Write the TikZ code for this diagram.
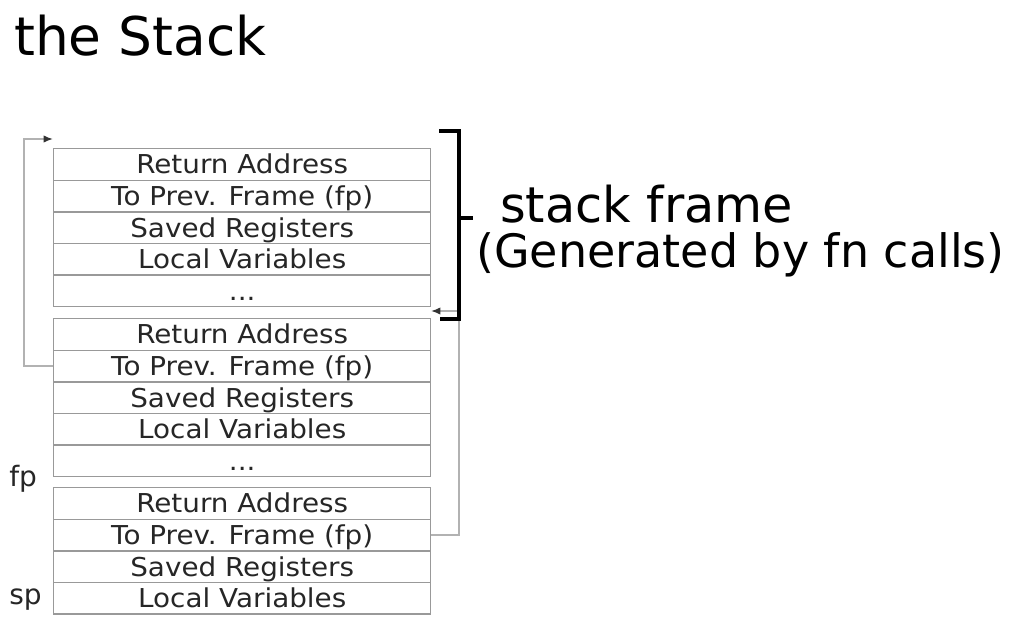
\documentclass[tikz,border=0pt]{standalone}
\usepackage{fontspec}
\setmainfont{DejaVu Sans}
\newfontfamily\cellfont[FakeStretch=1.07]{DejaVu Sans}
\usetikzlibrary{arrows.meta}
\newcommand\mydots{...}
\begin{document}
\begin{tikzpicture}[x=0.75pt,y=-0.75pt,
  cell/.style={draw=black!40, line width=1.1pt, minimum width=282.75pt, minimum height=23.7pt,
    inner sep=0pt, text height=15.5pt, text depth=1.5pt, anchor=north west,
    font=\cellfont\fontsize{19.5}{20}\selectfont, text=black!85},
  conn/.style={draw=black!30, line width=1.1pt, -{Latex[length=7pt,width=5.5pt,color=black!80]}},
  hand/.style={font=\fontsize{36}{40}\selectfont, anchor=west, inner sep=0pt},
  brk/.style={line width=3pt, line join=miter},
  lab/.style={font=\fontsize{21}{22}\selectfont, anchor=west, inner sep=0pt, text=black!85}]
\useasboundingbox (0,0) rectangle (1016,625);
\foreach \f/\y in {1/148, 2/318} {
  \foreach \t [count=\i from 0] in {Return Address, To Prev. Frame (fp), Saved Registers, Local Variables, \mydots}
    \node[cell] (f\f r\i) at (53,{\y+\i*31.6}) {\t};
}
\foreach \t [count=\i from 0] in {Return Address, To Prev. Frame (fp), Saved Registers, Local Variables}
  \node[cell] (f3r\i) at (53,{487+\i*31.6}) {\t};
\node[lab] (fp) at (9,479) {fp};
\node[lab] (sp) at (9,600) {sp};
\coordinate (t1) at (53,139);
\coordinate (t2) at (431,311);
\draw[conn] (f2r1.west) -| (24,139) -- (t1);
\draw[conn] (f3r1.east) -| (459,311) -- (t2);
\draw[brk] (439,131) -- (459,131) -- (459,319) -- (440,319);
\coordinate (bm) at (459,218);
\coordinate (bt) at (473,218);
\draw[brk] (bm) -- (bt);
\node[hand, font=\fontsize{40}{44}\selectfont] (title) at (14,36) {the Stack};
\node[hand, font=\fontsize{37}{40}\selectfont] (sf) at (500,204) {stack frame};
\node[hand, font=\fontsize{34.5}{38}\selectfont] (gen) at (476,255) {(Generated by fn calls)};
\end{tikzpicture}
\end{document}
